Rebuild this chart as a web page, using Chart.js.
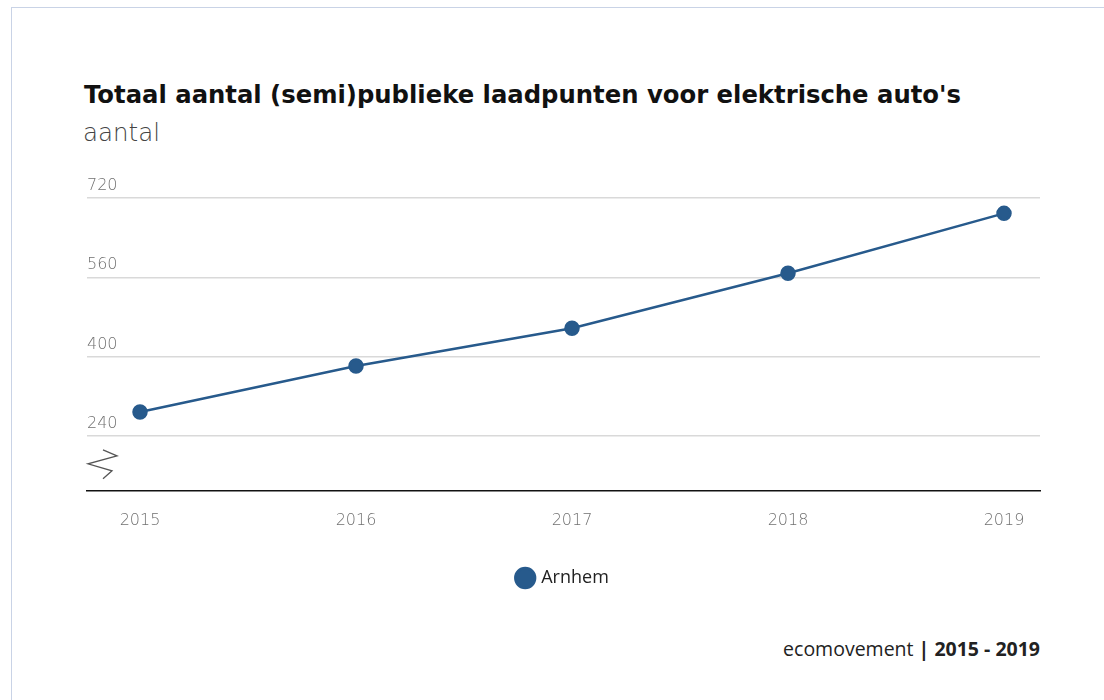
<!DOCTYPE html>
<html>
<head>
<meta charset="utf-8">
<script src="https://cdn.jsdelivr.net/npm/chart.js@4/dist/chart.umd.min.js"></script>
<style>
  html, body { margin: 0; padding: 0; background: #fff; }
  body { width: 1104px; height: 700px; position: relative; overflow: hidden; font-family: 'DejaVu Sans', sans-serif; }
  .frame { position: absolute; left: 11px; top: 7px; right: 0; bottom: 0; border-left: 1px solid #c9d3e6; border-top: 1px solid #c9d3e6; }
  .title { position: absolute; left: 84px; top: 82.5px; font-size: 24.3px; line-height: 1; font-weight: 700; color: #111; white-space: nowrap; }
  .subtitle { position: absolute; left: 83px; top: 121px; font-size: 24.5px; line-height: 1; font-weight: 200; color: #444; }
  .source { position: absolute; right: 64px; top: 639px; font-family: 'Open Sans', sans-serif; font-size: 19.5px; line-height: 1; color: #222; white-space: nowrap; }
  .source b { font-weight: 700; }
  .wrap { position: absolute; left: 0; top: 0; width: 1104px; height: 607px; }
</style>
</head>
<body>
<div class="frame"></div>
<div class="title">Totaal aantal (semi)publieke laadpunten voor elektrische auto's</div>
<div class="subtitle">aantal</div>
<div class="wrap"><canvas id="c"></canvas></div>
<div class="source">ecomovement <b>| 2015 - 2019</b></div>
<script>
const years = [2015, 2016, 2017, 2018, 2019];
const arnhem = [288, 381, 457, 568, 689];
const yTicks = [240, 400, 560, 720];
const seriesName = 'Arnhem';
const lineColor = '#275a8c';

// zigzag marker for the broken y-axis
const axisBreak = {
  id: 'axisBreak',
  afterDraw(chart) {
    const ctx = chart.ctx, a = chart.chartArea;
    const x0 = a.left, y0 = a.bottom;
    ctx.save();
    ctx.strokeStyle = '#555';
    ctx.lineWidth = 1.3;
    ctx.beginPath();
    ctx.moveTo(x0 + 16, y0 - 41);
    ctx.lineTo(x0 + 30, y0 - 35);
    ctx.lineTo(x0 + 1, y0 - 27);
    ctx.lineTo(x0 + 25, y0 - 20);
    ctx.lineTo(x0 + 16, y0 - 12);
    ctx.stroke();
    ctx.restore();
  }
};

new Chart(document.getElementById('c'), {
  type: 'line',
  data: {
    datasets: [{
      label: seriesName,
      data: years.map((y, i) => ({ x: y, y: arnhem[i] })),
      borderColor: lineColor,
      backgroundColor: lineColor,
      borderWidth: 2.5,
      pointRadius: 6.5,
      pointHoverRadius: 6.5,
      pointStyle: 'circle',
      tension: 0
    }]
  },
  options: {
    responsive: true,
    maintainAspectRatio: false,
    animation: false,
    layout: { padding: { left: 87, right: 64, top: 198, bottom: 10 } },
    plugins: {
      legend: {
        position: 'bottom',
        labels: {
          usePointStyle: true,
          pointStyle: 'circle',
          boxWidth: 14, boxHeight: 14,
          padding: 19,
          color: '#222',
          font: { family: 'Open Sans', size: 18 }
        }
      },
      tooltip: { enabled: false }
    },
    scales: {
      x: {
        type: 'linear',
        min: 2015 - 53 / 216,
        max: 2019 + 36 / 216,
        afterBuildTicks: s => { s.ticks = years.map(v => ({ value: v })); },
        grid: { display: true, color: 'transparent', drawTicks: false },
        border: { display: true, color: '#111', width: 1.5 },
        ticks: {
          padding: 20,
          color: '#707070',
          font: { family: 'DejaVu Sans', size: 16, weight: 200 },
          callback: v => String(v)
        }
      },
      y: {
        min: 129,
        max: 720,
        afterBuildTicks: s => { s.ticks = yTicks.map(v => ({ value: v })); },
        grid: { color: '#d9d9d9', lineWidth: 1.5, drawTicks: false },
        border: { display: false },
        ticks: {
          mirror: true,
          padding: 0,
          labelOffset: -12,
          color: '#707070',
          font: { family: 'DejaVu Sans', size: 16, weight: 200 },
          callback: v => String(v)
        }
      }
    }
  },
  plugins: [axisBreak]
});
</script>
</body>
</html>
